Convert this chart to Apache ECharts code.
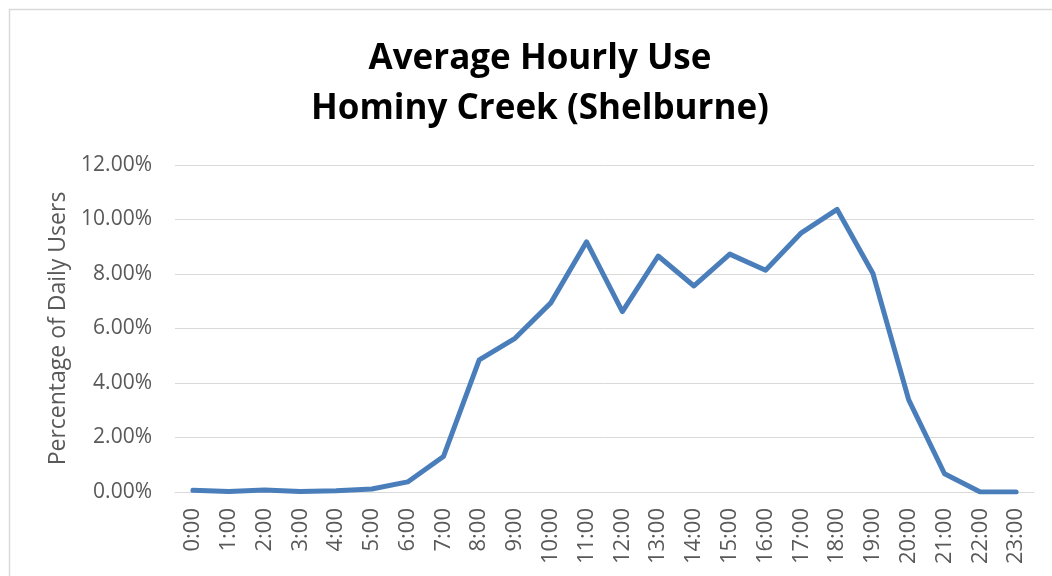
<!DOCTYPE html>
<html>
<head>
<meta charset="utf-8">
<script src="https://cdn.jsdelivr.net/npm/echarts@6/dist/echarts.min.js"></script>
<style>
html,body{margin:0;padding:0;background:#fff;}
#chart{width:1052px;height:576px;}
</style>
</head>
<body>
<div id="chart"></div>
<script>
const hours = ['0:00','1:00','2:00','3:00','4:00','5:00','6:00','7:00','8:00','9:00','10:00','11:00','12:00','13:00','14:00','15:00','16:00','17:00','18:00','19:00','20:00','21:00','22:00','23:00'];
const usePct = [0.06,0.02,0.07,0.02,0.05,0.11,0.37,1.30,4.85,5.64,6.94,9.18,6.62,8.66,7.56,8.73,8.14,9.51,10.37,8.02,3.38,0.67,0.00,0.00];
const titleLines = ['Average Hourly Use','Hominy Creek (Shelburne)'];
const yAxisName = 'Percentage of Daily Users';

const chart = echarts.init(document.getElementById('chart'), null, {renderer:'canvas'});
const font = '"Open Sans", "Liberation Sans", sans-serif';
chart.setOption({
  backgroundColor:'#ffffff',
  animation:false,
  graphic:[{
    type:'rect', left:7, top:7, shape:{width:1100,height:700},
    style:{fill:'none', stroke:'#d9d9d9', lineWidth:1.5}, silent:true
  }],
  title:{
    text: titleLines.join('\n'),
    left:535, top:29, textAlign:'center',
    textStyle:{fontFamily:font, fontWeight:'bold', fontSize:35, color:'#000', lineHeight:50}
  },
  grid:{left:175, right:18, top:165, bottom:84, containLabel:false},
  xAxis:{
    type:'category', data:hours, boundaryGap:true,
    axisLine:{show:true, lineStyle:{color:'#d9d9d9', width:1}},
    axisTick:{show:false},
    axisLabel:{rotate:90, interval:0, margin:16, color:'#595959', fontFamily:font, fontSize:22}
  },
  yAxis:{
    type:'value', min:0, max:12, interval:2,
    name:yAxisName, nameLocation:'middle', nameGap:104, nameRotate:90,
    nameTextStyle:{color:'#595959', fontFamily:font, fontSize:23},
    axisLine:{show:false}, axisTick:{show:false},
    splitLine:{lineStyle:{color:'#d9d9d9', width:1}},
    axisLabel:{margin:23, color:'#595959', fontFamily:font, fontSize:21,
      formatter:v=>v.toFixed(2)+'%'}
  },
  series:[{
    type:'line', data:usePct, symbol:'none',
    lineStyle:{color:'#4a7ebb', width:5, join:'round', cap:'round'},
    itemStyle:{color:'#4a7ebb'}
  }]
});
</script>
</body>
</html>
